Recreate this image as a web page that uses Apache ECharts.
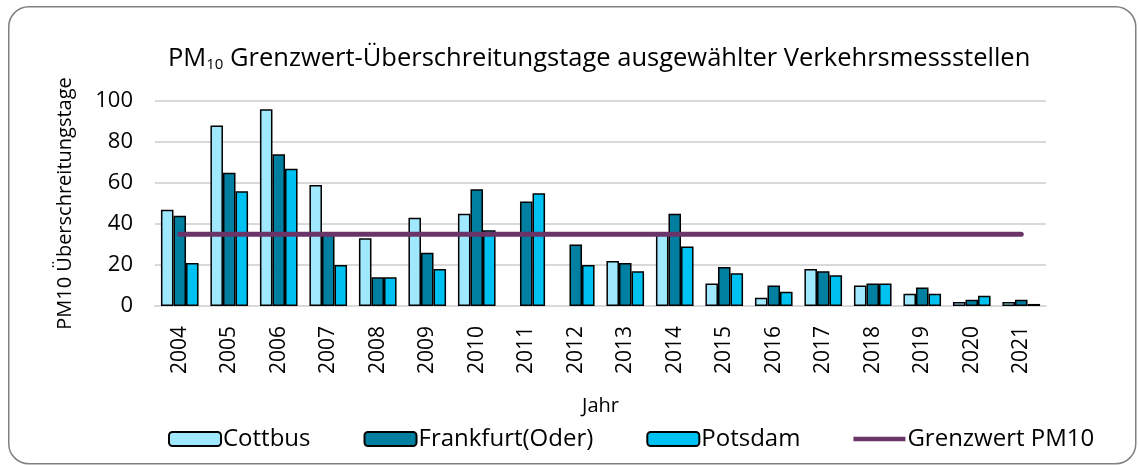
<!DOCTYPE html>
<html>
<head>
<meta charset="utf-8">
<script src="https://cdn.jsdelivr.net/npm/echarts@6/dist/echarts.min.js"></script>
<style>html,body{margin:0;padding:0;background:#fff}#c{width:1139px;height:465px}</style>
</head>
<body>
<div id="c"></div>
<script>
const years = ['2004','2005','2006','2007','2008','2009','2010','2011','2012','2013','2014','2015','2016','2017','2018','2019','2020','2021'];
const cottbus = [47, 88, 96, 59, 33, 43, 45, null, null, 22, 35, 11, 4, 18, 10, 6, 2, 2];
const frankfurt = [44, 65, 74, 35, 14, 26, 57, 51, 30, 21, 45, 19, 10, 17, 11, 9, 3, 3];
const potsdam = [21, 56, 67, 20, 14, 18, 37, 55, 20, 17, 29, 16, 7, 15, 11, 6, 5, 1];
const grenzwert = [35, 35, 35, 35, 35, 35, 35, 35, 35, 35, 35, 35, 35, 35, 35, 35, 35, 35];
const yTicks = [0, 20, 40, 60, 80, 100];

const FONT = '"Open Sans", "Noto Sans", sans-serif';
const chart = echarts.init(document.getElementById('c'), null, {renderer: 'canvas'});
const barStyle = (c) => ({color: c, borderColor: '#000', borderWidth: 1.5});
const LINE_ICON = 'path://M0,0 L0.01,0 M0,5 L58,5 L58,10 L0,10 Z M58,15 L57.99,15';
chart.setOption({
  animation: false,
  textStyle: {fontFamily: FONT, color: '#000'},
  graphic: [{
    type: 'rect', left: 8, top: 6, z: -10,
    shape: {width: 1127, height: 457, r: 20},
    style: {fill: '#fff', stroke: '#808080', lineWidth: 1.5}
  }],
  title: {
    text: '{a|PM}{s|10}{a| Grenzwert-Überschreitungstage ausgewählter Verkehrsmessstellen}',
    left: 163, top: 40,
    textStyle: {
      fontWeight: 'normal',
      rich: {
        a: {fontFamily: FONT, fontSize: 25.5, fontWeight: 'normal', color: '#000'},
        s: {fontFamily: FONT, fontSize: 15, fontWeight: 'normal', color: '#000', padding: [12, 0, 0, 0]}
      }
    }
  },
  legend: {
    bottom: 9, left: 163, itemGap: 53, itemWidth: 52, itemHeight: 14,
    textStyle: {fontFamily: FONT, fontSize: 24, color: '#000', padding: [0, 0, 0, -3]},
    data: [
      {name: 'Cottbus'},
      {name: 'Frankfurt(Oder)'},
      {name: 'Potsdam'},
      {name: 'Grenzwert PM10', icon: LINE_ICON, itemStyle: {color: '#6b3468', borderWidth: 0}}
    ]
  },
  grid: {left: 155, right: 93, top: 101, bottom: 159},
  xAxis: {
    type: 'category', data: years,
    name: 'Jahr', nameLocation: 'middle', nameGap: 90,
    nameTextStyle: {fontSize: 20, fontFamily: FONT, color: '#000'},
    axisLine: {lineStyle: {color: '#d9d9d9', width: 2}},
    axisTick: {show: false},
    axisLabel: {rotate: 90, fontSize: 21, fontFamily: FONT, color: '#000', margin: 20}
  },
  yAxis: {
    type: 'value', min: 0, max: 100, interval: 20,
    name: 'PM10 Überschreitungstage', nameLocation: 'middle', nameGap: 80,
    nameTextStyle: {fontSize: 20, fontFamily: FONT, color: '#000'},
    axisLine: {show: false}, axisTick: {show: false},
    axisLabel: {fontSize: 22, fontFamily: FONT, color: '#000', margin: 22,
      formatter: v => yTicks.includes(v) ? String(v) : ''},
    splitLine: {lineStyle: {color: '#d9d9d9', width: 2}}
  },
  series: [
    {name: 'Cottbus', type: 'bar', data: cottbus, barGap: '0%', barCategoryGap: '24%', itemStyle: barStyle('#9fe8fd')},
    {name: 'Frankfurt(Oder)', type: 'bar', data: frankfurt, barGap: '0%', barCategoryGap: '24%', itemStyle: barStyle('#007fa1')},
    {name: 'Potsdam', type: 'bar', data: potsdam, barGap: '0%', barCategoryGap: '24%', itemStyle: barStyle('#00c2f2')},
    {name: 'Grenzwert PM10', type: 'line', data: grenzwert, symbol: 'none', z: 5,
      lineStyle: {color: '#6b3468', width: 5, cap: 'round'}, itemStyle: {color: '#6b3468'}}
  ]
});
</script>
</body>
</html>
